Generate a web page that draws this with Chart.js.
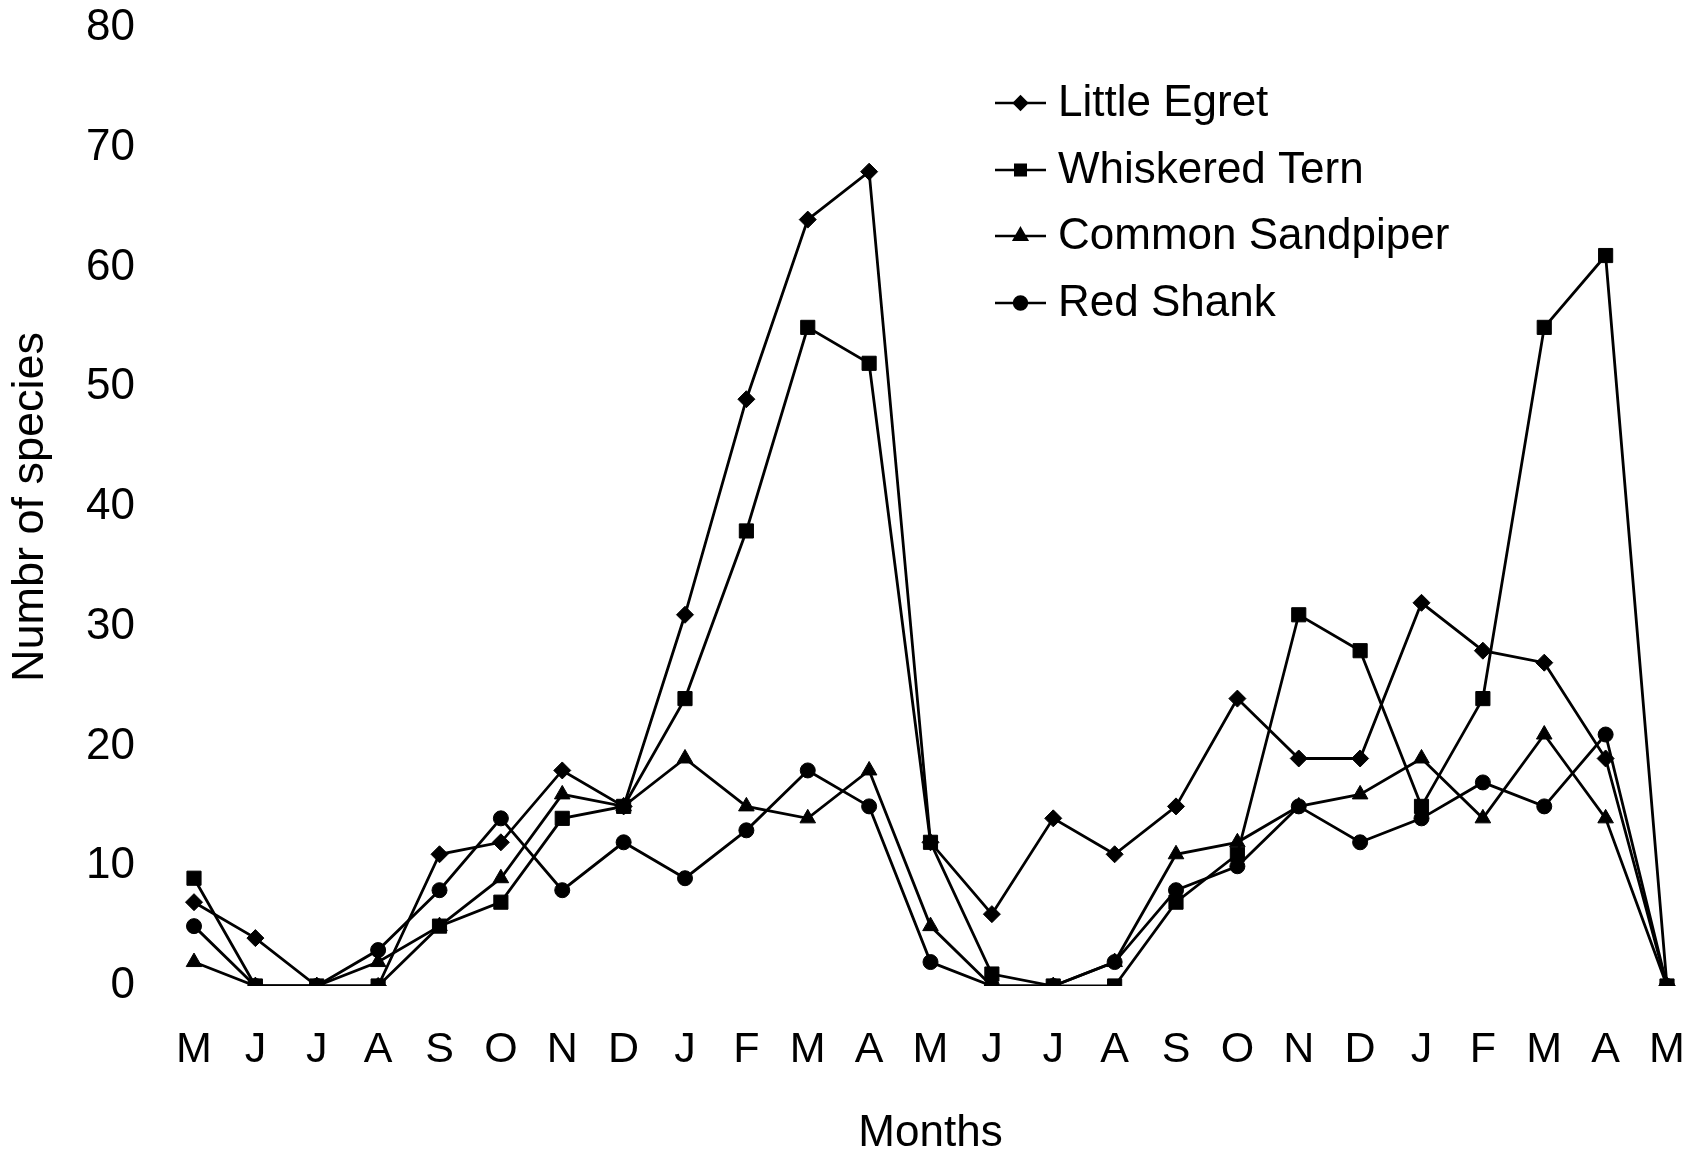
<!DOCTYPE html>
<html>
<head>
<meta charset="utf-8">
<script src="https://cdn.jsdelivr.net/npm/chart.js@4/dist/chart.umd.min.js"></script>
<style>
  html, body { margin: 0; padding: 0; background: #fff; }
  canvas { display: block; }
</style>
</head>
<body>
<canvas id="birdChart" width="1696" height="1156"></canvas>
<script>
// months, May of year one to May of year three
const months = ['M', 'J', 'J', 'A', 'S', 'O', 'N', 'D', 'J', 'F', 'M', 'A',
                'M', 'J', 'J', 'A', 'S', 'O', 'N', 'D', 'J', 'F', 'M', 'A', 'M'];

const littleEgret     = [7, 4, 0, 0, 11, 12, 18, 15, 31, 49, 64, 68, 12, 6, 14, 11, 15, 24, 19, 19, 32, 28, 27, 19, 0];
const whiskeredTern   = [9, 0, 0, 0, 5, 7, 14, 15, 24, 38, 55, 52, 12, 1, 0, 0, 7, 11, 31, 28, 15, 24, 55, 61, 0];
const commonSandpiper = [2, 0, 0, 2, 5, 9, 16, 15, 19, 15, 14, 18, 5, 0, 0, 2, 11, 12, 15, 16, 19, 14, 21, 14, 0];
const redShank        = [5, 0, 0, 3, 8, 14, 8, 12, 9, 13, 18, 15, 2, 0, 0, 2, 8, 10, 15, 12, 14, 17, 15, 21, 0];

const seriesNames = ['Little Egret', 'Whiskered Tern', 'Common Sandpiper', 'Red Shank'];
const yTicks = [0, 10, 20, 30, 40, 50, 60, 70, 80];

const FONT = "'Liberation Sans', Arial, sans-serif";

function makeSet(label, data, style, radius) {
    return {
        label: label,
        data: data,
        borderColor: '#000',
        backgroundColor: '#000',
        borderWidth: 2.8,
        pointStyle: style,
        pointRadius: radius,
        pointHoverRadius: radius,
        pointBorderWidth: 1,
        tension: 0
    };
}

// legend drawn inside the plot, like the original figure
const innerLegend = {
    id: 'innerLegend',
    afterDraw(chart) {
        const ctx = chart.ctx;
        const x0 = 995, x1 = 1046, textX = 1058;
        const rows = [103, 170, 236, 303];
        const radii = [6.5, 7.5, 7.5, 6.5];
        ctx.save();
        chart.data.datasets.forEach((ds, i) => {
            const y = rows[i];
            ctx.strokeStyle = '#000';
            ctx.lineWidth = 2.4;
            ctx.beginPath();
            ctx.moveTo(x0, y);
            ctx.lineTo(x1, y);
            ctx.stroke();
            ctx.fillStyle = '#000';
            Chart.helpers.drawPoint(ctx, {
                pointStyle: ds.pointStyle,
                radius: radii[i],
                rotation: 0,
                borderWidth: 1
            }, (x0 + x1) / 2, y);
            ctx.fill();
            ctx.font = '44px ' + FONT;
            ctx.textBaseline = 'middle';
            ctx.textAlign = 'left';
            ctx.fillText(ds.label, textX, y + 1);
        });
        ctx.restore();
    }
};

const ctx = document.getElementById('birdChart').getContext('2d');
new Chart(ctx, {
    type: 'line',
    data: {
        labels: months,
        datasets: [
            makeSet(seriesNames[0], littleEgret, 'rectRot', 8.5),
            makeSet(seriesNames[1], whiskeredTern, 'rect', 10),
            makeSet(seriesNames[2], commonSandpiper, 'triangle', 9),
            makeSet(seriesNames[3], redShank, 'circle', 7.5)
        ]
    },
    options: {
        responsive: false,
        animation: false,
        devicePixelRatio: 1,
        layout: { padding: { left: 8, right: 29, top: 28, bottom: 0 } },
        plugins: {
            legend: { display: false },
            tooltip: { enabled: false }
        },
        scales: {
            x: {
                offset: false,
                grid: { display: false, drawTicks: false },
                border: { display: false },
                ticks: {
                    color: '#000',
                    font: { family: FONT, size: 43 },
                    padding: 38,
                    maxRotation: 0,
                    autoSkip: false
                },
                title: {
                    display: true,
                    text: 'Months',
                    color: '#000',
                    font: { family: FONT, size: 44, lineHeight: 1 },
                    padding: { top: 0, bottom: 0 }
                },
                afterFit(scale) {
                    scale.height = 170;
                    scale.paddingLeft = 0;
                    scale.paddingRight = 0;
                }
            },
            y: {
                min: 0,
                max: 80,
                grid: { display: false, drawTicks: false },
                border: { display: false },
                afterBuildTicks(scale) {
                    scale.ticks = yTicks.map(v => ({ value: v }));
                },
                ticks: {
                    color: '#000',
                    font: { family: FONT, size: 44 },
                    padding: 59
                },
                title: {
                    display: true,
                    text: 'Numbr of species',
                    color: '#000',
                    font: { family: FONT, size: 45, lineHeight: 1 },
                    padding: { top: 0, bottom: 0 }
                },
                afterFit(scale) {
                    scale.width = 186;
                    scale.paddingTop = 0;
                    scale.paddingBottom = 0;
                }
            }
        }
    },
    plugins: [innerLegend]
});
</script>
</body>
</html>
